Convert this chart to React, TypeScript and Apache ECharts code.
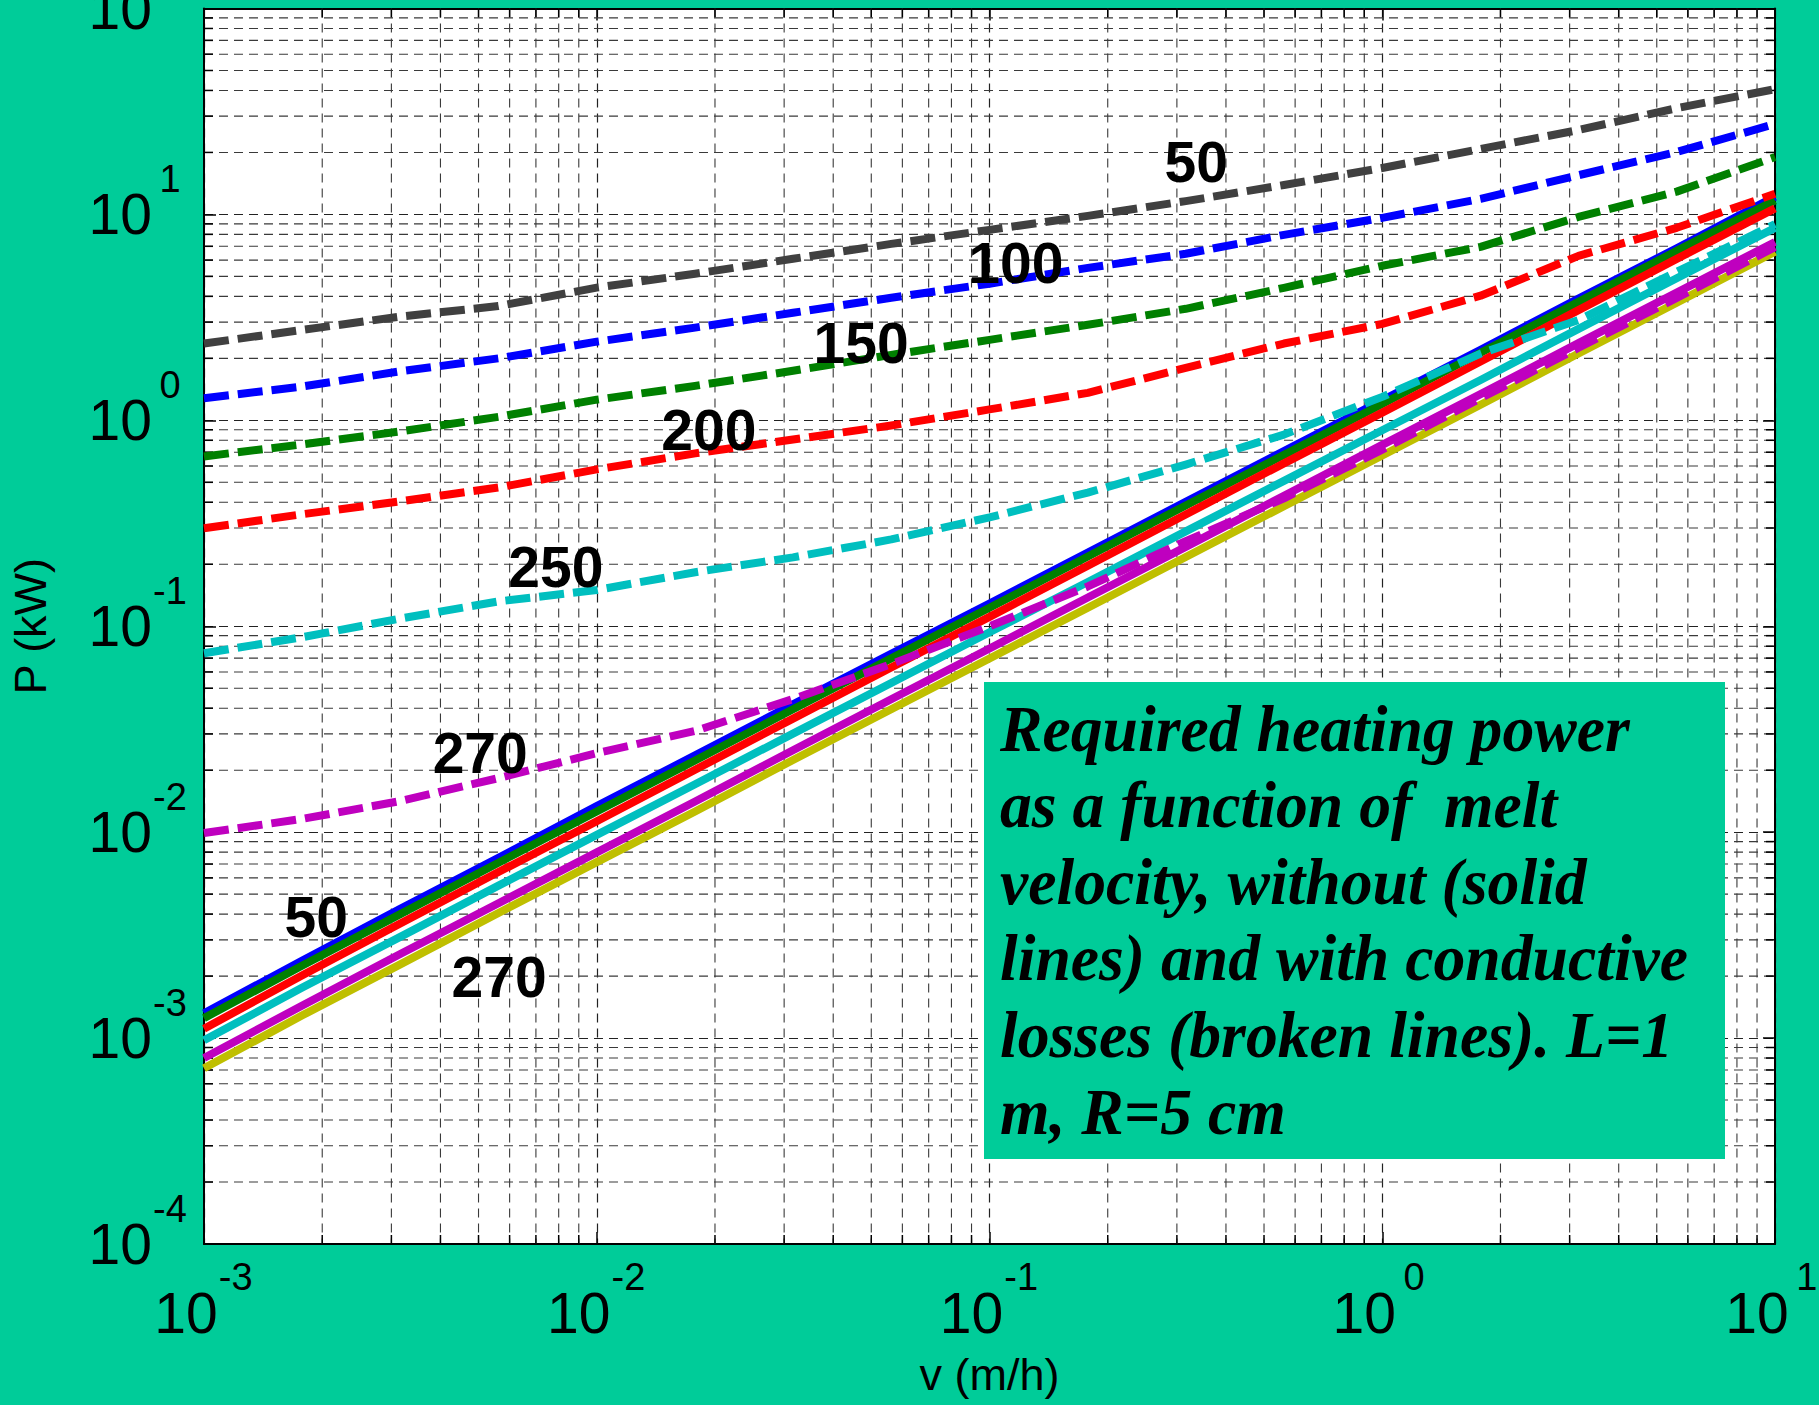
import React, { useEffect, useRef } from "react";
import * as echarts from "echarts";

// Melt velocity v (m/h), sampled every quarter decade
const velocity = [
  0.001, 0.00178, 0.00316, 0.00562, 0.01, 0.0178, 0.0316, 0.0562, 0.1, 0.178,
  0.316, 0.562, 1, 1.78, 3.16, 5.62, 10,
];

// Heating power P (kW) without conductive losses (solid lines)
const solidBlue = [1.32e-3, 2.38e-3, 4.25e-3, 7.5e-3, 0.0134, 0.0236, 0.0418, 0.0735, 0.129, 0.228, 0.402, 0.71, 1.25, 2.2, 3.9, 6.85, 12.2];
const solidGreen = [1.25e-3, 2.25e-3, 4.0e-3, 7.1e-3, 0.0126, 0.0223, 0.0395, 0.0698, 0.123, 0.218, 0.386, 0.68, 1.2, 2.13, 3.76, 6.65, 11.7];
const solidRed = [1.11e-3, 2.02e-3, 3.6e-3, 6.4e-3, 0.0113, 0.0201, 0.0356, 0.063, 0.111, 0.197, 0.349, 0.618, 1.09, 1.93, 3.43, 6.08, 10.7];
const solidCyan = [0.975e-3, 1.76e-3, 3.1e-3, 5.5e-3, 9.7e-3, 0.0171, 0.0301, 0.053, 0.0935, 0.164, 0.289, 0.508, 0.895, 1.57, 2.78, 4.9, 8.6];
const solidMagenta = [0.8e-3, 1.44e-3, 2.56e-3, 4.52e-3, 7.98e-3, 0.0141, 0.025, 0.0442, 0.078, 0.138, 0.243, 0.43, 0.76, 1.34, 2.37, 4.17, 7.35];
const solidOlive = [0.713e-3, 1.29e-3, 2.28e-3, 4.05e-3, 7.15e-3, 0.0126, 0.0224, 0.0395, 0.0697, 0.123, 0.217, 0.383, 0.675, 1.19, 2.11, 3.73, 6.6];

// Heating power P (kW) with conductive losses (broken lines)
const lossGray = [2.36, 2.75, 3.19, 3.59, 4.41, 5.15, 6.09, 7.19, 8.41, 9.84, 11.6, 13.9, 16.8, 20.8, 25.7, 32.8, 40.6];
const lossBlue = [1.28, 1.46, 1.73, 2.0, 2.41, 2.82, 3.33, 3.94, 4.61, 5.5, 6.44, 7.96, 9.62, 11.9, 15.5, 20.1, 27.5];
const lossGreen = [0.668, 0.764, 0.883, 1.04, 1.26, 1.47, 1.74, 2.08, 2.46, 2.91, 3.48, 4.4, 5.63, 6.96, 9.72, 12.9, 19.0];
const lossRed = [0.299, 0.35, 0.404, 0.472, 0.578, 0.691, 0.807, 0.944, 1.13, 1.36, 1.8, 2.36, 2.94, 4.03, 6.29, 8.61, 12.6];
const lossCyan = [0.0739, 0.0885, 0.109, 0.132, 0.15, 0.183, 0.216, 0.264, 0.338, 0.446, 0.61, 0.853, 1.3, 2.11, 3.07, 5.26, 8.97];
const lossMagenta = [0.0099, 0.0116, 0.01416, 0.0183, 0.0242, 0.031, 0.0443, 0.0655, 0.1, 0.156, 0.259, 0.418, 0.721, 1.28, 2.25, 3.93, 6.94];

// Temperature labels anchored in (v, P) data space
const labelTexts = ["50", "100", "150", "200", "250", "270", "50", "270"];
const labelV = [0.336, 0.1167, 0.0471, 0.0193, 0.00787, 0.00505, 0.00193, 0.00564];
const labelP = [17.9, 5.81, 2.37, 0.897, 0.194, 0.0242, 0.00387, 0.00198];

const noteLines = [
  "Required heating power",
  "as a function of  melt",
  "velocity, without (solid",
  "lines) and with conductive",
  "losses (broken lines). L=1",
  "m, R=5 cm",
];

const BG = "#00cc99";
const SANS = "Liberation Sans";
const LINE_W = 8;
const DASH = [25, 9];
const GRID_DASH = [9, 6];

const C = {
  gray: "#404040",
  blue: "#0000ff",
  green: "#008000",
  red: "#ff0000",
  cyan: "#00bfbf",
  magenta: "#bf00bf",
  olive: "#bfbf00",
};

// Minor (2..9 x 10^k) log gridline values
const minorX: number[] = [];
for (let e = -3; e < 1; e++) for (let m = 2; m <= 9; m++) minorX.push(m * Math.pow(10, e));
const minorY: number[] = [];
for (let e = -4; e < 2; e++) for (let m = 2; m <= 9; m++) minorY.push(m * Math.pow(10, e));

const tickRich = {
  b: { fontSize: 57, fontFamily: SANS, color: "#000", lineHeight: 83, verticalAlign: "bottom" },
  e: { fontSize: 38, fontFamily: SANS, color: "#000", verticalAlign: "top", width: 36, align: "left" },
};
const powLabel = (value: number) => `{b|10}{e|${Math.round(Math.log10(value))}}`;

function curve(name: string, values: number[], color: string, dashed: boolean) {
  return {
    type: "line",
    name,
    data: velocity.map((v, i) => [v, values[i]]),
    symbol: "none",
    showSymbol: false,
    silent: true,
    lineStyle: { color, width: LINE_W, type: dashed ? DASH : "solid", cap: "butt", join: "round" },
    itemStyle: { color },
    z: 3,
  };
}

export default function App() {
  const ref = useRef<HTMLDivElement>(null);

  useEffect(() => {
    if (!ref.current) return;
    const chart = echarts.init(ref.current, null, { renderer: "svg" });

    const axisLine = { show: true, lineStyle: { color: "#000", width: 2 } };
    const axisTick = { show: true, inside: true, length: 12, lineStyle: { color: "#000", width: 1.5 } };
    const majorGrid = { show: true, lineStyle: { color: "#222", width: 1.2, type: GRID_DASH } };

    const option: any = {
      animation: false,
      backgroundColor: BG,
      grid: {
        left: 204,
        right: 44,
        top: 8.5,
        bottom: 161,
        show: true,
        backgroundColor: "#fff",
        borderWidth: 0,
        containLabel: false,
        outerBoundsMode: "none",
      },
      xAxis: [
        {
          type: "log",
          logBase: 10,
          min: 0.001,
          max: 10,
          splitNumber: 4,
          position: "bottom",
          axisLine,
          axisTick,
          splitLine: majorGrid,
          axisLabel: {
            show: true,
            interval: 0,
            margin: 14,
            formatter: powLabel,
            rich: tickRich,
            showMinLabel: true,
            showMaxLabel: true,
          },
          name: "v (m/h)",
          nameLocation: "middle",
          nameGap: 108,
          nameTextStyle: { fontSize: 45, fontFamily: SANS, color: "#000" },
        },
        {
          type: "log",
          logBase: 10,
          min: 0.001,
          max: 10,
          splitNumber: 4,
          position: "top",
          axisLine,
          axisTick,
          splitLine: { show: false },
          axisLabel: { show: false },
        },
      ],
      yAxis: [
        {
          type: "log",
          logBase: 10,
          min: 0.0001,
          max: 100,
          splitNumber: 6,
          position: "left",
          axisLine,
          axisTick,
          splitLine: majorGrid,
          axisLabel: {
            show: true,
            interval: 0,
            margin: 16,
            padding: [0, 0, 26, 0],
            formatter: powLabel,
            rich: tickRich,
            showMinLabel: true,
            showMaxLabel: true,
          },
          name: "P (kW)",
          nameLocation: "middle",
          nameGap: 151,
          nameTextStyle: { fontSize: 45, fontFamily: SANS, color: "#000" },
        },
        {
          type: "log",
          logBase: 10,
          min: 0.0001,
          max: 100,
          splitNumber: 6,
          position: "right",
          axisLine,
          axisTick,
          splitLine: { show: false },
          axisLabel: { show: false },
        },
      ],
      graphic: [
        {
          id: "note-box",
          type: "rect",
          shape: { x: 984, y: 682, width: 741, height: 477 },
          style: { fill: BG },
          z: 100,
          silent: true,
        },
        {
          id: "note-text",
          type: "text",
          x: 1000,
          y: 690,
          scaleX: 0.965,
          z: 101,
          silent: true,
          style: {
            text: noteLines.join("\n"),
            fontSize: 66,
            fontFamily: "Liberation Serif",
            fontStyle: "italic",
            fontWeight: "bold",
            fill: "#000",
            lineHeight: 76.6,
            verticalAlign: "top",
            align: "left",
          },
        },
      ],
      series: [
        // minor vertical gridlines with inner ticks
        {
          type: "custom",
          silent: true,
          clip: false,
          z: 1,
          data: minorX.map((v) => [v, 1]),
          encode: { x: 0, y: 1 },
          renderItem: (params: any, api: any) => {
            const cs = params.coordSys;
            const x = api.coord([api.value(0), 1])[0];
            const bottom = cs.y + cs.height;
            return {
              type: "group",
              children: [
                { type: "line", shape: { x1: x, y1: cs.y, x2: x, y2: bottom }, style: { stroke: "#3a3a3a", lineWidth: 1.1, lineDash: GRID_DASH } },
                { type: "line", shape: { x1: x, y1: bottom, x2: x, y2: bottom - 9 }, style: { stroke: "#000", lineWidth: 1.5 } },
                { type: "line", shape: { x1: x, y1: cs.y, x2: x, y2: cs.y + 9 }, style: { stroke: "#000", lineWidth: 1.5 } },
              ],
            };
          },
        },
        // minor horizontal gridlines with inner ticks
        {
          type: "custom",
          silent: true,
          clip: false,
          z: 1,
          data: minorY.map((p) => [1, p]),
          encode: { x: 0, y: 1 },
          renderItem: (params: any, api: any) => {
            const cs = params.coordSys;
            const y = api.coord([1, api.value(1)])[1];
            const right = cs.x + cs.width;
            return {
              type: "group",
              children: [
                { type: "line", shape: { x1: cs.x, y1: y, x2: right, y2: y }, style: { stroke: "#3a3a3a", lineWidth: 1.1, lineDash: GRID_DASH } },
                { type: "line", shape: { x1: cs.x, y1: y, x2: cs.x + 9, y2: y }, style: { stroke: "#000", lineWidth: 1.5 } },
                { type: "line", shape: { x1: right, y1: y, x2: right - 9, y2: y }, style: { stroke: "#000", lineWidth: 1.5 } },
              ],
            };
          },
        },
        curve("solid blue", solidBlue, C.blue, false),
        curve("solid green", solidGreen, C.green, false),
        curve("solid red", solidRed, C.red, false),
        curve("solid cyan", solidCyan, C.cyan, false),
        curve("solid magenta", solidMagenta, C.magenta, false),
        curve("solid olive", solidOlive, C.olive, false),
        curve("loss 50", lossGray, C.gray, true),
        curve("loss 100", lossBlue, C.blue, true),
        curve("loss 150", lossGreen, C.green, true),
        curve("loss 200", lossRed, C.red, true),
        curve("loss 250", lossCyan, C.cyan, true),
        curve("loss 270", lossMagenta, C.magenta, true),
      ],
    };

    chart.setOption(option);

    // temperature labels, placed through the grid's own log scales
    const labels = labelTexts.map((t, i) => {
      const [px, py] = chart.convertToPixel({ xAxisIndex: 0, yAxisIndex: 0 }, [labelV[i], labelP[i]]);
      return {
        id: "temp-label-" + i,
        type: "text",
        x: px,
        y: py,
        z: 60,
        silent: true,
        style: {
          text: t,
          fontSize: 57,
          fontWeight: "bold",
          fontFamily: SANS,
          fill: "#000",
          align: "center",
          verticalAlign: "middle",
        },
      };
    });
    chart.setOption({ graphic: labels });

    return () => chart.dispose();
  }, []);

  return (
    <div
      ref={ref}
      style={{ position: "absolute", left: 0, top: 0, width: 1819, height: 1405 }}
    />
  );
}
